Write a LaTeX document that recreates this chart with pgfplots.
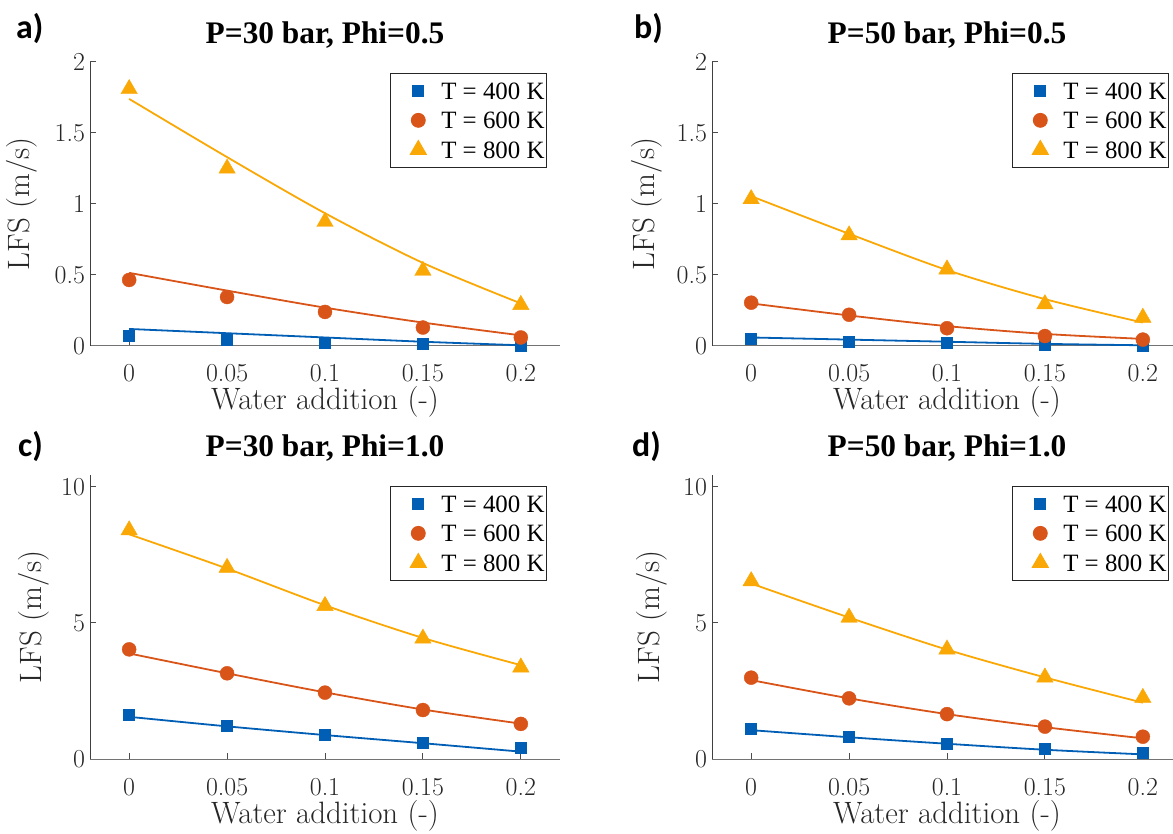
\documentclass[border=0pt]{standalone}
\usepackage{fontspec}
\usepackage{pgfplots}
\usepackage{pgfplotstable}
\pgfplotsset{compat=1.18}

\setmainfont{Latin Modern Roman}
\newfontfamily\timesfont{Liberation Serif}
\newfontfamily\calibrifont{Carlito}

\definecolor{c400}{rgb}{0.00,0.37,0.71}
\definecolor{c600}{rgb}{0.85,0.33,0.10}
\definecolor{c800}{rgb}{0.98,0.66,0.02}

% columns: water fraction, measured LFS (m) and fitted curve (f) for each temperature
\pgfplotstableread{
w    m400  m600  m800  f400  f600  f800
0    0.070 0.465 1.81  0.120 0.515 1.74
0.05 0.045 0.345 1.25  0.090 0.390 1.33
0.10 0.025 0.240 0.875 0.060 0.270 0.935
0.15 0.018 0.130 0.53  0.030 0.165 0.585
0.20 0.005 0.060 0.29  0.005 0.075 0.30
}\tabA
\pgfplotstableread{
w    m400  m600  m800  f400  f600  f800
0    0.050 0.305 1.035 0.060 0.300 1.055
0.05 0.030 0.220 0.78  0.045 0.215 0.79
0.10 0.020 0.125 0.54  0.030 0.140 0.535
0.15 0.010 0.070 0.295 0.015 0.085 0.33
0.20 0.005 0.045 0.20  0.005 0.050 0.165
}\tabB
\pgfplotstableread{
w    m400  m600  m800  f400  f600  f800
0    1.63  4.03  8.41  1.55  3.88  8.26
0.05 1.22  3.15  7.03  1.20  3.15  7.00
0.10 0.88  2.44  5.63  0.88  2.45  5.65
0.15 0.60  1.80  4.43  0.58  1.82  4.45
0.20 0.42  1.29  3.37  0.27  1.30  3.45
}\tabC
\pgfplotstableread{
w    m400  m600  m800  f400  f600  f800
0    1.13  2.99  6.54  1.06  2.90  6.45
0.05 0.82  2.23  5.20  0.80  2.23  5.20
0.10 0.575 1.65  4.03  0.56  1.65  4.02
0.15 0.39  1.19  3.00  0.34  1.17  3.00
0.20 0.23  0.82  2.25  0.17  0.76  2.07
}\tabD

\pgfplotsset{
  lfspanel/.style={
    scale only axis, width=470bp, height=284bp,
    xmin=-0.02, xmax=0.22, ymin=0,
    axis x line*=bottom, axis y line*=left,
    x axis line style={black!55, line width=1bp, -},
    y axis line style={black!75, line width=1bp, -},
    tick align=inside, major tick length=6bp,
    tick style={black!70, line width=1bp},
    xtick={0,0.05,0.1,0.15,0.2},
    xticklabels={0,0.05,0.1,0.15,0.2},
    ticklabel style={font=\fontsize{26}{26}\selectfont, text=black!85},
    xticklabel style={anchor=base, yshift=-36bp},
    yticklabel style={xshift=-1.5bp},
    xlabel={Water addition (-)},
    ylabel={LFS (m/s)},
    label style={font=\fontsize{31}{31}\selectfont, text=black!85},
    xlabel style={at={(axis description cs:0.5,0)}, anchor=base, yshift=-64bp},
    title style={at={(axis description cs:0.5,1)}, anchor=base, yshift=13bp,
                 font=\timesfont\bfseries\fontsize{31.5}{31.5}\selectfont},
    clip=false,
    legend cell align=left,
    legend style={at={(axis description cs:1,1)}, anchor=north east,
                  xshift=-13bp, yshift=-11bp,
                  draw=black!85, line width=0.8bp, fill=white,
                  inner xsep=2bp, inner ysep=2.7bp, row sep=0pt,
                  nodes={inner sep=0pt, text depth=0pt},
                  font=\timesfont\fontsize{25}{25}\selectfont},
    legend image code/.code={%
      \path[draw=none, fill=none] (-26bp,-14.75bp) rectangle (23bp,14.75bp);
      \draw[##1] plot coordinates {(0bp,0bp)};},
  },
  fitline/.style={line width=1.8bp, smooth, forget plot},
  m400/.style={only marks, mark=square*, mark size=5.5bp, color=c400, mark options={fill=c400, draw=c400}},
  m600/.style={only marks, mark=*, mark size=7bp, color=c600, mark options={fill=c600, draw=c600}},
  m800/.style={only marks, mark=triangle*, mark size=9.5bp, color=c800, mark options={fill=c800, draw=c800}},
}

% one panel: position, table, title, y range, y ticks, y-label offset
\newcommand{\lfspanel}[6]{%
  \begin{axis}[lfspanel, at={#1}, anchor=south west, title={#3},
      ymax=#4, ytick={#5}, yticklabels={#5},
      ylabel style={at={(axis description cs:#6,0.5)}, anchor=center}]
    \addplot[c400, fitline] table[x=w, y=f400] {#2};
    \addplot[c600, fitline] table[x=w, y=f600] {#2};
    \addplot[c800, fitline] table[x=w, y=f800] {#2};
    \addplot[m400] table[x=w, y=m400] {#2};
    \addplot[m600] table[x=w, y=m600] {#2};
    \addplot[m800] table[x=w, y=m800] {#2};
    \legend{T = 400 K, T = 600 K, T = 800 K}
  \end{axis}}

\begin{document}
\begin{tikzpicture}
  \path[use as bounding box] (0,0) rectangle (1173bp,834bp);
  \clip (0,0) rectangle (1173bp,834bp);

  \lfspanel{(90bp,488bp)}{\tabA}{P=30 bar, Phi=0.5}{2}{0,0.5,1,1.5,2}{-0.145}
  \lfspanel{(712bp,488bp)}{\tabB}{P=50 bar, Phi=0.5}{2}{0,0.5,1,1.5,2}{-0.138}
  \lfspanel{(90bp,75bp)}{\tabC}{P=30 bar, Phi=1.0}{10.44}{0,5,10}{-0.119}
  \lfspanel{(712bp,75bp)}{\tabD}{P=50 bar, Phi=1.0}{10.44}{0,5,10}{-0.128}

  \begin{scope}[every node/.style={anchor=base west, inner sep=0pt,
        font=\calibrifont\bfseries\fontsize{34}{34}\selectfont}]
    \node at (16bp,795bp) {a)};
    \node at (634bp,795bp) {b)};
    \node at (18bp,377bp) {c)};
    \node at (632bp,377bp) {d)};
  \end{scope}
\end{tikzpicture}
\end{document}
